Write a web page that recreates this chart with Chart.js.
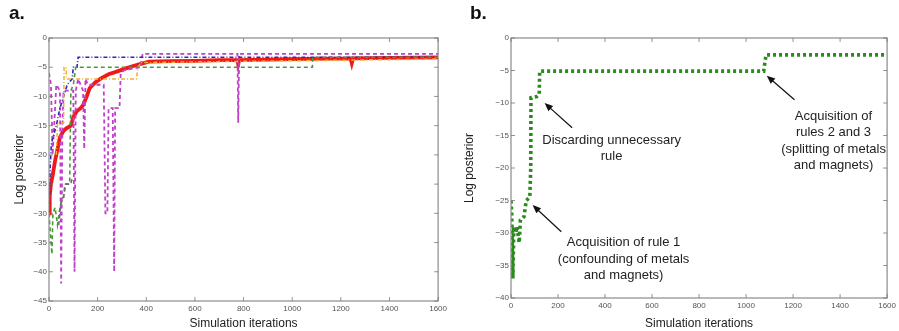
<!DOCTYPE html>
<html>
<head>
<meta charset="utf-8">
<script src="https://cdn.jsdelivr.net/npm/chart.js@4/dist/chart.umd.min.js"></script>
<style>
  html, body { margin: 0; padding: 0; background: #fff; }
  #wrap { position: relative; width: 899px; height: 331px; overflow: hidden; font-family: "Liberation Sans", Arial, sans-serif; }
  .panel { position: absolute; top: 0; height: 331px; }
  .lbl { position: absolute; top: 2px; font-weight: bold; font-size: 19px; color: #111; }
</style>
</head>
<body>
<div id="wrap">
  <div class="panel" style="left:0;width:450px"><canvas id="chartA"></canvas></div>
  <div class="panel" style="left:450px;width:449px"><canvas id="chartB"></canvas></div>
  <div class="lbl" style="left:9px">a.</div>
  <div class="lbl" style="left:470px">b.</div>
</div>
<script>
// panel a: several runs (x = iteration, y = log posterior)
const redX = [0, 3, 8, 15, 25, 35, 45, 58, 70, 90, 100, 115, 130, 140, 155, 167, 190, 214, 245, 275, 316, 370, 411, 500, 600, 700, 775, 778, 782, 900, 1000, 1240, 1245, 1250, 1400, 1600];
const redY = [-30, -27, -25, -23.5, -21, -19, -17, -16, -15.5, -15, -13.5, -12.5, -12, -11.5, -10, -8.6, -7.6, -6.9, -6.2, -5.8, -5.2, -4.5, -4.05, -3.95, -3.9, -3.8, -3.8, -4.5, -3.8, -3.7, -3.6, -3.5, -4.3, -3.5, -3.4, -3.3];

const magX = [0, 8, 15, 30, 45, 50, 55, 60, 100, 105, 110, 120, 140, 145, 150, 160, 225, 232, 240, 245, 262, 268, 272, 290, 295, 310, 375, 385, 775, 778, 782, 1600];
const magY = [-6, -8, -20, -8, -9, -42, -15, -9, -9, -40, -9, -7, -9, -19, -7, -8, -8, -30, -30, -12, -12, -40, -12, -12, -6, -5.5, -5, -2.7, -2.7, -14.5, -2.7, -2.7];

const blueX = [0, 5, 10, 30, 45, 60, 75, 95, 100, 115, 120, 1600];
const blueY = [-30, -22, -18, -15, -12, -10, -8, -7, -5, -5, -3.3, -3.3];

const greenX = [0, 5, 12, 16, 25, 35, 45, 60, 70, 85, 90, 100, 110, 1083, 1085, 1600];
const greenY = [-30, -33, -37, -30, -29, -32, -29, -27, -25, -25, -9, -8, -5, -5, -3.3, -3.3];

const orangeX = [30, 35, 60, 62, 70, 72, 360, 365, 380, 1600];
const orangeY = [-20, -14.5, -14.5, -5, -5, -7, -7, -5, -4.2, -3.6];

const grayX = [40, 50, 60, 65, 90, 95];
const grayY = [-32, -28, -27.5, -25, -25, -24];

// panel b: single run
const runX = [0, 3, 8, 12, 20, 25, 35, 40, 55, 65, 80, 84, 85, 110, 120, 122, 1075, 1085, 1600];
const runY = [-25, -27, -37, -29, -30, -29, -31.5, -28, -27.5, -25, -24.5, -20, -9.2, -9, -8.7, -5.1, -5.1, -2.6, -2.6];

const xTicks = [0, 200, 400, 600, 800, 1000, 1200, 1400, 1600];
const yTicksA = [-45, -40, -35, -30, -25, -20, -15, -10, -5, 0];
const yTicksB = [-40, -35, -30, -25, -20, -15, -10, -5, 0];

const notes = [
  { lines: ['Discarding unnecessary', 'rule'], x: 428, y: -15.7, from: [260, -13.8], to: [143, -10] },
  { lines: ['Acquisition of', 'rules 2 and 3', '(splitting of metals', 'and magnets)'], x: 1372, y: -12, from: [1206, -9.5], to: [1088, -5.8] },
  { lines: ['Acquisition of rule 1', '(confounding of metals', 'and magnets)'], x: 479, y: -31.5, from: [214, -29.8], to: [92, -25.7] }
];

function pts(xs, ys) {
  return xs.map((x, i) => ({ x: x, y: ys[i] }));
}

function fmt(v) {
  return v < 0 ? '\u2212' + Math.abs(v) : String(v);
}

// frame + inward ticks on all sides, like matplotlib
const framePlugin = {
  id: 'frame',
  afterDatasetsDraw(chart) {
    const { ctx, chartArea: a, scales } = chart;
    ctx.save();
    ctx.strokeStyle = '#8a8a8a';
    ctx.lineWidth = 1.2;
    ctx.strokeRect(a.left, a.top, a.right - a.left, a.bottom - a.top);
    ctx.strokeStyle = '#777';
    ctx.lineWidth = 0.8;
    ctx.beginPath();
    scales.x.ticks.forEach(t => {
      const px = scales.x.getPixelForValue(t.value);
      ctx.moveTo(px, a.bottom); ctx.lineTo(px, a.bottom - 4);
      ctx.moveTo(px, a.top); ctx.lineTo(px, a.top + 4);
    });
    scales.y.ticks.forEach(t => {
      const py = scales.y.getPixelForValue(t.value);
      ctx.moveTo(a.left, py); ctx.lineTo(a.left + 4, py);
      ctx.moveTo(a.right, py); ctx.lineTo(a.right - 4, py);
    });
    ctx.stroke();
    ctx.restore();
  }
};

const notePlugin = {
  id: 'notes',
  afterDatasetsDraw(chart, args, opts) {
    if (!opts.items) return;
    const { ctx, scales } = chart;
    ctx.save();
    ctx.font = '13px "Liberation Sans", Arial, sans-serif';
    ctx.fillStyle = '#222';
    ctx.textAlign = 'center';
    ctx.textBaseline = 'middle';
    opts.items.forEach(n => {
      const cx = scales.x.getPixelForValue(n.x);
      const cy = scales.y.getPixelForValue(n.y);
      n.lines.forEach((l, i) => ctx.fillText(l, cx, cy + i * 16.5));
      const x1 = scales.x.getPixelForValue(n.from[0]), y1 = scales.y.getPixelForValue(n.from[1]);
      const x2 = scales.x.getPixelForValue(n.to[0]), y2 = scales.y.getPixelForValue(n.to[1]);
      const ang = Math.atan2(y2 - y1, x2 - x1);
      ctx.strokeStyle = '#111';
      ctx.lineWidth = 1.2;
      ctx.beginPath();
      ctx.moveTo(x1, y1);
      ctx.lineTo(x2 - 5 * Math.cos(ang), y2 - 5 * Math.sin(ang));
      ctx.stroke();
      ctx.beginPath();
      ctx.moveTo(x2, y2);
      ctx.lineTo(x2 - 9 * Math.cos(ang - 0.4), y2 - 9 * Math.sin(ang - 0.4));
      ctx.lineTo(x2 - 9 * Math.cos(ang + 0.4), y2 - 9 * Math.sin(ang + 0.4));
      ctx.closePath();
      ctx.fillStyle = '#111';
      ctx.fill();
      ctx.fillStyle = '#222';
    });
    ctx.restore();
  }
};

function makeOptions(yMin, yTicks, yWidth, xHeight, rightPad, notes) {
  return {
    responsive: true,
    maintainAspectRatio: false,
    animation: false,
    layout: { padding: { top: 38, right: rightPad, left: 0, bottom: 0 } },
    plugins: { legend: { display: false }, tooltip: { enabled: false }, notes: { items: notes } },
    elements: { point: { radius: 0 } },
    scales: {
      x: {
        type: 'linear', min: 0, max: 1600,
        afterBuildTicks: s => { s.ticks = xTicks.map(v => ({ value: v })); },
        afterFit: s => { s.height = xHeight; },
        grid: { display: false, drawTicks: false },
        border: { display: false },
        ticks: { color: '#555', font: { size: 8 }, padding: 3, maxRotation: 0, callback: v => fmt(v) },
        title: { display: true, text: 'Simulation iterations', color: '#222', font: { size: 12, family: '"Liberation Sans", Arial, sans-serif' }, padding: { top: 0, bottom: 0 } }
      },
      y: {
        type: 'linear', min: yMin, max: 0,
        afterBuildTicks: s => { s.ticks = yTicks.map(v => ({ value: v })); },
        afterFit: s => { s.width = yWidth; },
        grid: { display: false, drawTicks: false },
        border: { display: false },
        ticks: { color: '#555', font: { size: 8 }, padding: 2, callback: v => fmt(v) },
        title: { display: true, text: 'Log posterior', color: '#222', font: { size: 12, family: '"Liberation Sans", Arial, sans-serif' }, padding: { top: 12, bottom: 0 } }
      }
    }
  };
}

function series(xs, ys, color, width, dash) {
  return { data: pts(xs, ys), borderColor: color, borderWidth: width, borderDash: dash, fill: false, tension: 0, pointRadius: 0 };
}

Chart.defaults.font.family = '"Liberation Sans", Arial, sans-serif';

new Chart(document.getElementById('chartA'), {
  type: 'line',
  data: {
    datasets: [
      series(grayX, grayY, '#707070', 1.6, [4, 3]),
      series(greenX, greenY, '#4a9a3a', 1.6, [4, 3]),
      series(orangeX, orangeY, '#f0b030', 1.5, [4, 2, 1, 2]),
      series(blueX, blueY, '#2a2ab0', 1.6, [4, 2, 1, 2]),
      series(magX, magY, '#c040c8', 1.8, [4, 3]),
      series(redX, redY, '#f01818', 3.8, [])
    ]
  },
  options: makeOptions(-45, yTicksA, 49, 30, 8, null),
  plugins: [framePlugin]
});

new Chart(document.getElementById('chartB'), {
  type: 'line',
  data: {
    datasets: [series(runX, runY, '#2a8a1c', 3.6, [3, 3])]
  },
  options: makeOptions(-40, yTicksB, 61, 33, 7, notes),
  plugins: [framePlugin, notePlugin]
});
</script>
</body>
</html>
